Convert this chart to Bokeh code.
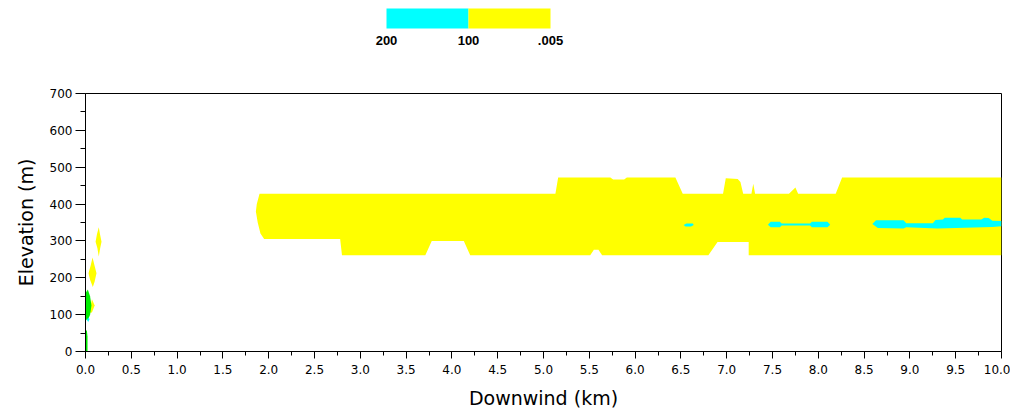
from bokeh.plotting import figure
from bokeh.layouts import column
from bokeh.models import Range1d, FixedTicker, ColumnDataSource
from bokeh.core.properties import value
from bokeh.embed import file_html
from bokeh.resources import INLINE

# ---------------- data (downwind km, elevation m) ----------------
# main plume band, concentration 100 - .005 (yellow)
band_x = [1.90, 5.13, 5.16, 5.73, 5.76, 5.88, 5.91, 6.44, 6.52, 6.96, 6.99, 7.12, 7.15,
          7.18, 7.27, 7.29, 7.31, 7.68, 7.75, 7.78, 8.19, 8.26, 10.0, 10.0,
          7.24, 7.24, 6.90, 6.80, 5.64, 5.60, 5.55, 5.51, 4.20, 4.13, 3.78, 3.71,
          2.80, 2.78, 1.95, 1.91, 1.88, 1.86, 1.87]
band_y = [428, 428, 472, 472, 467, 467, 472, 472, 428, 428, 470, 468, 460,
          428, 428, 455, 428, 428, 445, 428, 428, 472, 472, 261,
          261, 297, 297, 261, 261, 276, 276, 261, 261, 300, 300, 261,
          261, 305, 305, 320, 350, 380, 400]

# near-source puffs (yellow)
puff1_x = [0.077, 0.10, 0.12, 0.10, 0.08, 0.05, 0.033, 0.055]
puff1_y = [255, 232, 212, 190, 175, 195, 212, 232]
puff2_x = [0.145, 0.16, 0.175, 0.16, 0.145, 0.13, 0.11, 0.125]
puff2_y = [337, 316, 298, 280, 258, 280, 298, 318]
puff3_x = [0.04, 0.07, 0.10, 0.07]
puff3_y = [105, 142, 125, 106]

# near-source high values (green)
green1_x = [0.0, 0.005, 0.025, 0.05, 0.065, 0.05, 0.03, 0.01]
green1_y = [95, 160, 168, 150, 125, 100, 88, 85]
green2_x = [0.0, 0.0, 0.015, 0.022, 0.022]
green2_y = [0, 57, 57, 40, 0]

# concentration 200 - 100 (cyan)
cyan0_x = [0.015, 0.03, 0.045, 0.03]
cyan0_y = [86, 92, 88, 80]
cyan1_x = [6.53, 6.56, 6.63, 6.64, 6.61, 6.55]
cyan1_y = [343, 347, 347, 343, 339, 339]
cyan2_x = [7.45, 7.48, 7.58, 7.60, 7.91, 7.93, 8.10, 8.13, 8.10, 7.93, 7.91, 7.60, 7.58, 7.48]
cyan2_y = [344, 352, 352, 347, 347, 352, 352, 344, 337, 337, 342, 342, 337, 337]
cyan3_x = [8.59, 8.63, 8.93, 8.96, 9.25, 9.28, 9.36, 9.38, 9.55, 9.57, 9.78, 9.81, 9.86, 9.90,
           10.0, 10.0, 9.90, 9.30, 8.96, 8.93, 8.65]
cyan3_y = [346, 356, 356, 348, 348, 357, 358, 363, 363, 358, 358, 363, 362, 355,
           354, 340, 338, 334, 337, 334, 335]

# legend
legend_bounds = [0, 1, 2]
legend_labels = ["200", "100", ".005"]
legend_colors = ["#00ffff", "#ffff00"]

x_ticks = [0.0, 0.5, 1.0, 1.5, 2.0, 2.5, 3.0, 3.5, 4.0, 4.5, 5.0,
           5.5, 6.0, 6.5, 7.0, 7.5, 8.0, 8.5, 9.0, 9.5, 10.0]
x_tick_labels = ["0.0", "0.5", "1.0", "1.5", "2.0", "2.5", "3.0", "3.5", "4.0", "4.5", "5.0",
                 "5.5", "6.0", "6.5", "7.0", "7.5", "8.0", "8.5", "9.0", "9.5", "10.0"]
x_minor = [0.25 + 0.5 * i for i in range(20)]
y_ticks = [0, 100, 200, 300, 400, 500, 600, 700]
y_tick_labels = ["0", "100", "200", "300", "400", "500", "600", "700"]
y_minor = [50, 150, 250, 350, 450, 550, 650]

YELLOW = "#ffff00"
CYAN = "#00ffff"
GREEN = "#00ee00"
FONT = "DejaVu Sans"

W = 1010
LEFT, RIGHT = 85, 9
FRAME_W = W - LEFT - RIGHT  # 916

# ---------------- legend strip (frame aligned with main plot) ----------------
leg = figure(width=W, height=56, output_backend="svg", toolbar_location=None,
             x_range=Range1d(-301 / 82, (FRAME_W - 301) / 82), y_range=Range1d(56, 0),
             min_border_left=LEFT, min_border_right=RIGHT, min_border_top=0, min_border_bottom=0)
leg.axis.visible = False
leg.grid.visible = False
leg.outline_line_color = None
leg_src = ColumnDataSource(dict(left=legend_bounds[:-1], right=legend_bounds[1:],
                                color=legend_colors))
leg.quad(left="left", right="right", top=8, bottom=28, fill_color="color",
         line_color=None, source=leg_src)
leg.text(x=legend_bounds, y=[40] * 3, text=legend_labels, text_align="center",
         text_baseline="middle", text_font=value("Liberation Sans"),
         text_font_size="13px", text_font_style="bold", text_color="black")

# ---------------- main plot ----------------
p = figure(width=W, height=355, output_backend="svg", toolbar_location=None,
           x_range=Range1d(0, 10), y_range=Range1d(0, 700),
           min_border_left=LEFT, min_border_right=RIGHT, min_border_top=37, min_border_bottom=58)
p.grid.visible = False
p.outline_line_color = "black"
p.outline_line_width = 1
p.background_fill_color = "white"

p.patches(xs=[band_x, puff1_x, puff2_x, puff3_x], ys=[band_y, puff1_y, puff2_y, puff3_y],
          fill_color=YELLOW, line_color=None)
p.patches(xs=[green1_x, green2_x], ys=[green1_y, green2_y], fill_color=GREEN, line_color=None)
p.patches(xs=[cyan0_x, cyan1_x, cyan2_x, cyan3_x], ys=[cyan0_y, cyan1_y, cyan2_y, cyan3_y],
          fill_color=CYAN, line_color=None)

p.xaxis.ticker = FixedTicker(ticks=x_ticks, minor_ticks=x_minor)
p.xaxis.major_label_overrides = {t: s for t, s in zip(x_ticks, x_tick_labels)}
p.yaxis.ticker = FixedTicker(ticks=y_ticks, minor_ticks=y_minor)
p.yaxis.major_label_overrides = {t: s for t, s in zip(y_ticks, y_tick_labels)}

p.xaxis.axis_label = "Downwind (km)"
p.yaxis.axis_label = "Elevation (m)"
for ax in (p.xaxis, p.yaxis):
    ax.axis_line_color = "black"
    ax.major_tick_line_color = "black"
    ax.minor_tick_line_color = "black"
    ax.major_tick_in = 0
    ax.minor_tick_in = 0
    ax.major_label_text_font = FONT
    ax.major_label_text_font_size = "12px"
    ax.major_label_text_color = "black"
    ax.axis_label_text_font = FONT
    ax.axis_label_text_font_size = "19px"
    ax.axis_label_text_font_style = "normal"
    ax.axis_label_text_color = "black"
p.xaxis.major_tick_out = 7
p.xaxis.minor_tick_out = 4
p.xaxis.major_label_standoff = 6
p.xaxis.axis_label_standoff = 10
p.yaxis.major_tick_out = 10
p.yaxis.minor_tick_out = 5
p.yaxis.major_label_standoff = 3
p.yaxis.axis_label_standoff = 10

layout = column(leg, p, spacing=0)
open("out.html", "w").write(file_html(layout, INLINE))
